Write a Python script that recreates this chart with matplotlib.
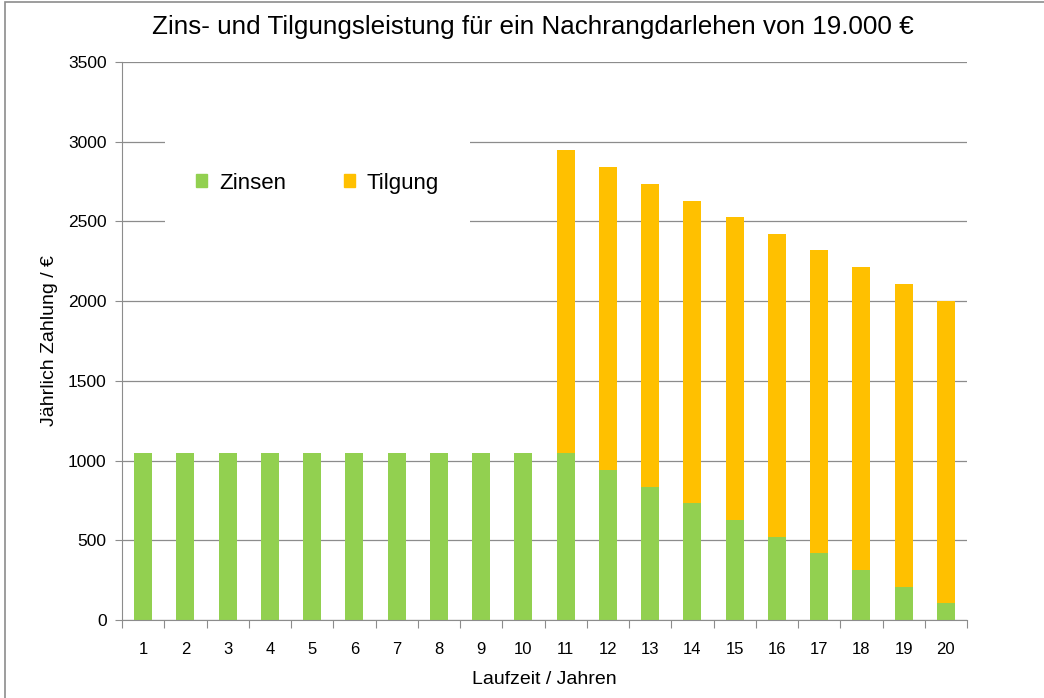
import matplotlib.pyplot as plt
from matplotlib.patches import Rectangle, Patch
import numpy as np

plt.rcParams['font.family'] = ['Liberation Sans', 'DejaVu Sans']

jahre = list(range(1, 21))
zinsen = [1045, 1045, 1045, 1045, 1045, 1045, 1045, 1045, 1045, 1045,
          1045, 940, 836, 731, 627, 522, 418, 313, 209, 104]
tilgung = [0, 0, 0, 0, 0, 0, 0, 0, 0, 0,
           1900, 1900, 1900, 1900, 1900, 1900, 1900, 1900, 1900, 1900]
yticks = [0, 500, 1000, 1500, 2000, 2500, 3000, 3500]

gruen = '#92D050'
orange = '#FFC000'
grau = '#8c8c8c'

fig = plt.figure(figsize=(10.44, 6.98), dpi=100)
ax = fig.add_axes([122 / 1044, 78 / 698, 845 / 1044, 558 / 698])

x = np.array(jahre)
ax.bar(x, zinsen, width=0.43, color=gruen, zorder=2)
ax.bar(x, tilgung, width=0.43, bottom=zinsen, color=orange, zorder=2)

ax.set_xlim(0.5, 20.5)
ax.set_ylim(0, 3500)
ax.set_yticks(yticks)
ax.yaxis.grid(True, color=grau, linewidth=0.9)
ax.set_axisbelow(True)

# category boundaries as major ticks, labels at the centres
ax.set_xticks(np.arange(0.5, 21, 1))
ax.set_xticklabels([])
ax.set_xticks(x, minor=True)
ax.set_xticklabels([str(j) for j in jahre], minor=True, fontsize=12)
ax.tick_params(axis='x', which='major', length=6, color=grau, direction='out')
ax.tick_params(axis='x', which='minor', length=0, pad=16)
ax.tick_params(axis='y', length=5, color=grau, labelsize=12.5, pad=6)

for s in ['top', 'right']:
    ax.spines[s].set_visible(False)
ax.spines['left'].set_color(grau)
ax.spines['bottom'].set_color(grau)

ax.set_xlabel('Laufzeit / Jahren', fontsize=14, labelpad=10)
ax.set_ylabel('Jährlich Zahlung / €', fontsize=14, labelpad=7)

# white box behind the legend hides the gridlines
ax.add_patch(Rectangle((43 / 845, 0.712), 305 / 845, 0.152, transform=ax.transAxes,
                       facecolor='white', edgecolor='none', zorder=1))
handles = [Patch(color=gruen, label='Zinsen'), Patch(color=orange, label='Tilgung')]
ax.legend(handles=handles, loc='center left', bbox_to_anchor=(0.087, 0.783), ncol=2,
          frameon=False, fontsize=16, handlelength=0.5, handleheight=0.5,
          handletextpad=0.55, columnspacing=2.6, borderpad=0, borderaxespad=0)

fig.text(533 / 1044, (698 - 27) / 698, 'Zins- und Tilgungsleistung für ein Nachrangdarlehen von 19.000 €',
         ha='center', va='center', fontsize=18.7)

fig.patches.append(Rectangle((5 / 1044, -0.1), 1.2, (698 - 2) / 698 + 0.1,
                             transform=fig.transFigure, fill=False,
                             edgecolor=grau, linewidth=1.2))

fig.savefig('out.png', dpi=100)
